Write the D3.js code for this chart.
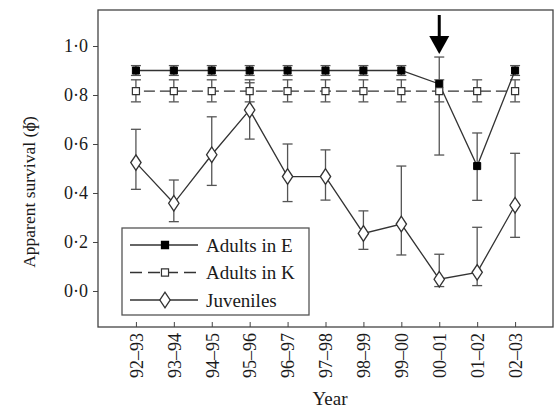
<!DOCTYPE html>
<html>
<head>
<meta charset="utf-8">
<script src="https://cdn.jsdelivr.net/npm/d3@7/dist/d3.min.js"></script>
<style>
  body { margin: 0; background: #fff; }
  svg { font-family: "Liberation Serif", "Times New Roman", serif; }
</style>
</head>
<body>
<svg id="chart" width="557" height="410"></svg>
<script>
// data
const years = ["92–93", "93–94", "94–95", "95–96", "96–97", "97–98", "98–99", "99–00", "00–01", "01–02", "02–03"];
const adultsE = [0.90, 0.90, 0.90, 0.90, 0.90, 0.90, 0.90, 0.90, 0.845, 0.51, 0.90];
const adultsELow = [0.88, 0.88, 0.88, 0.88, 0.88, 0.88, 0.88, 0.88, 0.555, 0.37, 0.88];
const adultsEHigh = [0.92, 0.92, 0.92, 0.92, 0.92, 0.92, 0.92, 0.92, 0.955, 0.645, 0.92];
const adultsK = [0.816, 0.816, 0.816, 0.816, 0.816, 0.816, 0.816, 0.816, 0.816, 0.816, 0.816];
const adultsKLow = [0.772, 0.772, 0.772, 0.772, 0.772, 0.772, 0.772, 0.772, 0.772, 0.772, 0.772];
const adultsKHigh = [0.862, 0.862, 0.862, 0.862, 0.862, 0.862, 0.862, 0.862, 0.862, 0.862, 0.862];
const juveniles = [0.524, 0.358, 0.556, 0.739, 0.467, 0.467, 0.235, 0.273, 0.048, 0.076, 0.35];
const juvLow = [0.415, 0.283, 0.431, 0.62, 0.365, 0.371, 0.17, 0.147, 0.018, 0.022, 0.219];
const juvHigh = [0.66, 0.453, 0.711, 0.85, 0.60, 0.576, 0.327, 0.51, 0.15, 0.26, 0.562];
const yTicks = [0, 0.2, 0.4, 0.6, 0.8, 1.0];
const arrowYear = "00–01";

const svg = d3.select("#chart");
const plotL = 98, plotR = 553, plotT = 10, plotB = 327;

const x = d3.scalePoint().domain(years).range([plotL, plotR]).padding(1);
const y = d3.scaleLinear().domain([-0.147, 1.147]).range([plotB, plotT]);

const lineCol = "#333";
const textCol = "#1a1a1a";

// frame
svg.append("rect")
  .attr("x", plotL).attr("y", plotT)
  .attr("width", plotR - plotL).attr("height", plotB - plotT)
  .attr("fill", "none").attr("stroke", "#444").attr("stroke-width", 1.3);

// y axis
const yAxis = svg.append("g")
  .attr("transform", "translate(" + plotL + ",0)")
  .call(d3.axisLeft(y).tickValues(yTicks).tickSize(5).tickPadding(5)
    .tickFormat(d => d3.format(".1f")(d).replace(".", "·")));
yAxis.select(".domain").remove();
yAxis.selectAll("line").attr("stroke", "#444");
yAxis.selectAll("text").attr("font-size", 18).attr("fill", textCol)
  .attr("font-family", "Liberation Serif, serif");

// x axis, ticks pointing in
const xAxis = svg.append("g")
  .attr("transform", "translate(0," + plotB + ")")
  .call(d3.axisBottom(x).tickSizeInner(-5).tickSizeOuter(0).tickPadding(7));
xAxis.select(".domain").remove();
xAxis.selectAll("line").attr("stroke", "#444");
xAxis.selectAll("text")
  .attr("font-size", 18).attr("fill", textCol)
  .attr("font-family", "Liberation Serif, serif")
  .attr("transform", "rotate(-90)")
  .attr("text-anchor", "end")
  .attr("x", -6).attr("y", 0).attr("dy", "0.35em");

// axis titles
svg.append("text")
  .attr("x", 330).attr("y", 405)
  .attr("text-anchor", "middle").attr("font-size", 19).attr("fill", textCol)
  .text("Year");
svg.append("text")
  .attr("transform", "translate(35,192) rotate(-90)")
  .attr("text-anchor", "middle").attr("font-size", 17.5).attr("fill", textCol)
  .text("Apparent survival (ɸ̂)");

// error bars helper
function errorBars(vals, lo, hi, cls) {
  const g = svg.append("g").attr("class", cls);
  const data = years.map((d, i) => ({ year: d, lo: lo[i], hi: hi[i] }));
  g.selectAll("line.v").data(data).enter().append("line")
    .attr("x1", d => x(d.year)).attr("x2", d => x(d.year))
    .attr("y1", d => y(d.lo)).attr("y2", d => y(d.hi))
    .attr("stroke", "#555").attr("stroke-width", 1.3);
  ["lo", "hi"].forEach(k => {
    g.selectAll("line." + k).data(data).enter().append("line")
      .attr("x1", d => x(d.year) - 5).attr("x2", d => x(d.year) + 5)
      .attr("y1", d => y(d[k])).attr("y2", d => y(d[k]))
      .attr("stroke", "#555").attr("stroke-width", 1.3);
  });
}

errorBars(juveniles, juvLow, juvHigh, "err-juv");
errorBars(adultsK, adultsKLow, adultsKHigh, "err-k");
errorBars(adultsE, adultsELow, adultsEHigh, "err-e");

const line = d3.line().x(d => x(d.year)).y(d => y(d.v));
function series(vals) { return years.map((d, i) => ({ year: d, v: vals[i] })); }

svg.append("path").datum(series(juveniles))
  .attr("d", line).attr("fill", "none").attr("stroke", lineCol).attr("stroke-width", 1.3);
svg.append("path").datum(series(adultsK))
  .attr("d", line).attr("fill", "none").attr("stroke", lineCol).attr("stroke-width", 1.3)
  .attr("stroke-dasharray", "11,5").attr("stroke-dashoffset", 8);
svg.append("path").datum(series(adultsE))
  .attr("d", line).attr("fill", "none").attr("stroke", lineCol).attr("stroke-width", 1.3);

// markers
const diamond = d3.symbol().type(d3.symbolDiamond).size(70);
svg.append("g").selectAll("path").data(series(juveniles)).enter().append("path")
  .attr("d", diamond)
  .attr("transform", d => "translate(" + x(d.year) + "," + y(d.v) + ") scale(1.15,1)")
  .attr("fill", "#fff").attr("stroke", "#333").attr("stroke-width", 1.2);
svg.append("g").selectAll("path").data(series(adultsE)).enter().append("path")
  .attr("d", d3.symbol().type(d3.symbolSquare).size(50))
  .attr("transform", d => "translate(" + x(d.year) + "," + y(d.v) + ")")
  .attr("fill", "#000").attr("stroke", "#000").attr("stroke-width", 1);
svg.append("g").selectAll("path").data(series(adultsK)).enter().append("path")
  .attr("d", d3.symbol().type(d3.symbolSquare).size(50))
  .attr("transform", d => "translate(" + x(d.year) + "," + y(d.v) + ")")
  .attr("fill", "#fff").attr("stroke", "#333").attr("stroke-width", 1.2);

// arrow over 00-01
const ax = x(arrowYear);
svg.append("line")
  .attr("x1", ax).attr("x2", ax).attr("y1", 15).attr("y2", 40)
  .attr("stroke", "#000").attr("stroke-width", 3);
svg.append("path")
  .attr("d", "M" + (ax - 10) + ",36 L" + (ax + 10) + ",36 L" + ax + ",54 Z")
  .attr("fill", "#000");

// legend
const lg = svg.append("g").attr("transform", "translate(122,228)");
lg.append("rect").attr("width", 187).attr("height", 87)
  .attr("fill", "#fff").attr("stroke", "#555").attr("stroke-width", 1.3);
const legendItems = [
  { label: "Adults in E", dash: null, marker: "sq-fill" },
  { label: "Adults in K", dash: "11,5", marker: "sq-open" },
  { label: "Juveniles", dash: null, marker: "diamond" }
];
legendItems.forEach((it, i) => {
  const cy = 17 + i * 27.5;
  lg.append("line").attr("x1", 8).attr("x2", 76).attr("y1", cy).attr("y2", cy)
    .attr("stroke", lineCol).attr("stroke-width", 1.3)
    .attr("stroke-dasharray", it.dash ? "12,6" : null);
  const m = lg.append("path").attr("transform", "translate(43," + cy + ")" + (it.marker === "diamond" ? " scale(1.15,1)" : ""));
  if (it.marker === "diamond") {
    m.attr("d", diamond).attr("fill", "#fff").attr("stroke", "#333").attr("stroke-width", 1.2);
  } else {
    m.attr("d", d3.symbol().type(d3.symbolSquare).size(50))
      .attr("fill", it.marker === "sq-fill" ? "#000" : "#fff")
      .attr("stroke", it.marker === "sq-fill" ? "#000" : "#333").attr("stroke-width", 1.2);
  }
  lg.append("text").attr("x", 84).attr("y", cy).attr("dy", "0.35em")
    .attr("font-size", 19).attr("fill", textCol).text(it.label);
});
</script>
</body>
</html>
